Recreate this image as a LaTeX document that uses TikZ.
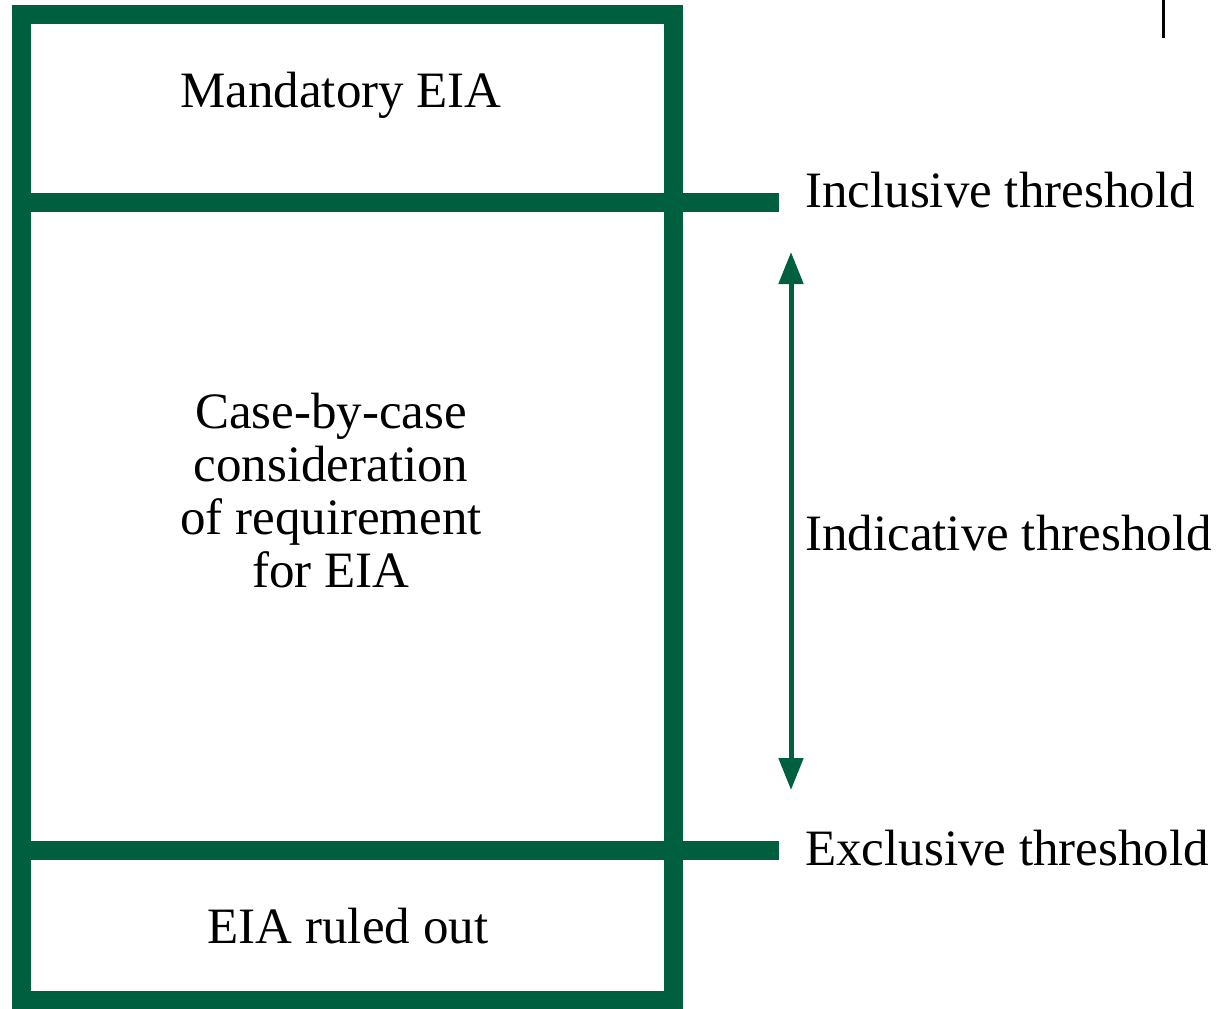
\documentclass[tikz,border=0pt]{standalone}
\usepackage{fontspec}
\setmainfont{Liberation Serif}
\usetikzlibrary{arrows.meta}
\definecolor{eiagreen}{RGB}{0,95,62}
\tikzset{
  bar/.style={line width=19pt, draw=eiagreen},
  lbl/.style={font=\fontsize{51}{53}\selectfont, inner sep=0pt, align=center},
  tlbl/.style={font=\fontsize{51}{53}\selectfont, inner sep=0pt, anchor=west}
}
\begin{document}
\begin{tikzpicture}[x=1pt, y=-1pt]
\useasboundingbox (0,0) rectangle (1229,1009);
\coordinate (TL) at (21.5, 14.5);
\coordinate (BR) at (673.5, 1000);
\coordinate (I1) at (21.5, 202.5);
\coordinate (I2) at (779, 202.5);
\coordinate (E1) at (21.5, 850.5);
\coordinate (E2) at (779, 850.5);
\coordinate (A1) at (791, 252);
\coordinate (A2) at (791, 790);
\coordinate (M1) at (1163, 0);
\coordinate (M2) at (1163, 38);
\node[lbl] (mand) at (341, 95) {Mandatory EIA};
\node[lbl] (case) at (331, 491) {Case-by-case\\consideration\\of requirement\\for EIA};
\node[lbl] (out) at (348, 926) {EIA ruled out};
\node[tlbl] (incl) at (805, 190) {Inclusive threshold};
\node[tlbl] (indi) at (805, 533) {Indicative threshold};
\node[tlbl] (excl) at (805, 848) {Exclusive threshold};
\draw[bar] (TL) rectangle (BR);
\draw[bar] (I1) -- (I2);
\draw[bar] (E1) -- (E2);
\draw[line width=5pt, draw=eiagreen, fill=eiagreen, {Triangle[length=32pt,width=24pt]}-{Triangle[length=32pt,width=24pt]}] (A1) -- (A2);
\draw[line width=3pt, black] (M1) -- (M2);
\end{tikzpicture}
\end{document}
